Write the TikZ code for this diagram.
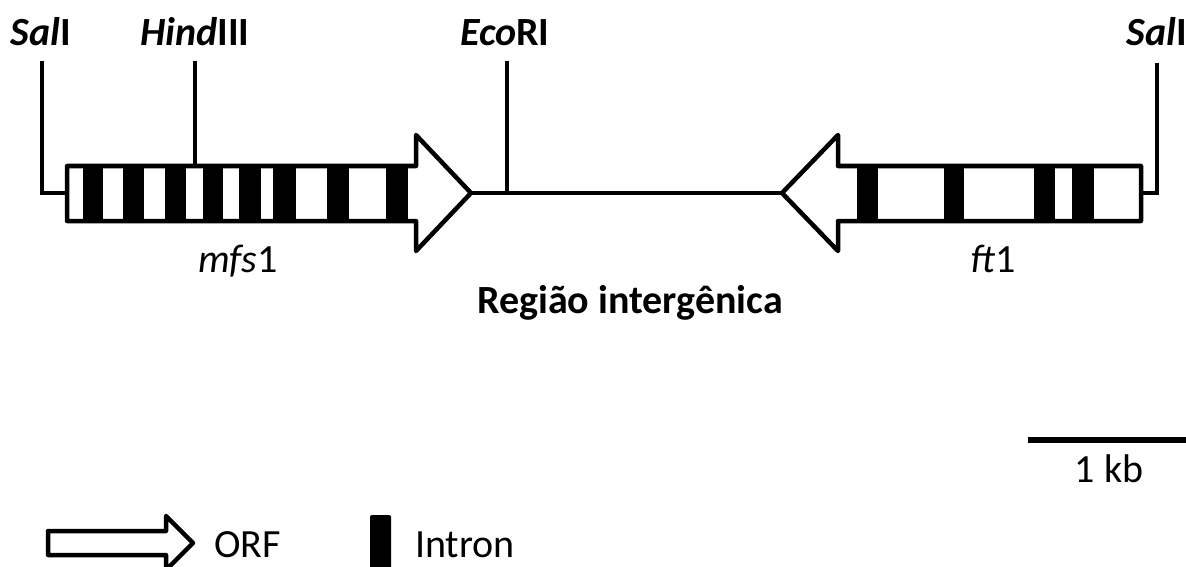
\documentclass[tikz,border=0pt]{standalone}
\usepackage{fontspec}
\setmainfont{Carlito}
\begin{document}
\begin{tikzpicture}[x=1pt,y=-1pt,
  lbl/.style={inner sep=0pt,anchor=base,font=\fontsize{40}{45}\selectfont},
  orf/.style={draw=black,fill=white,line width=4.5pt,line join=round},
  intron/.style={fill=black,draw=none},
  conn/.style={draw=black,line width=4.2pt},
  scalebar/.style={draw=black,line width=5.5pt}]
\useasboundingbox (0,0) rectangle (1186,567);
% key coordinates
\coordinate (salL) at (42,61);
\coordinate (salLb) at (42,193);
\coordinate (mfsL) at (67,193);
\coordinate (hindT) at (195,61);
\coordinate (hindB) at (195,166);
\coordinate (mfsTip) at (471,193);
\coordinate (ecoT) at (507,61);
\coordinate (ecoB) at (507,193);
\coordinate (ftTip) at (782,193);
\coordinate (ftR) at (1141,193);
\coordinate (salR) at (1157,63);
\coordinate (salRb) at (1157,193);
% connectors
\draw[conn] (salL) -- (salLb) -- (mfsL);
\draw[conn] (hindT) -- (hindB);
\draw[conn] (ecoT) -- (ecoB);
\draw[conn] (mfsTip) -- (ftTip);
\draw[conn] (salR) -- (salRb) -- (ftR);
% mfs1 ORF
\fill[white] (67,166) -- (416,166) -- (416,135) -- (mfsTip) -- (416,251) -- (416,221) -- (67,221) -- cycle;
\foreach \a/\b in {83/103,123/144,165/186,203/223,239/261,273/296,327/349,386/408}
  \fill[intron] (\a,166) rectangle (\b,221);
\draw[orf,fill=none] (67,166) -- (416,166) -- (416,135) -- (mfsTip) -- (416,251) -- (416,221) -- (67,221) -- cycle;
% ft1 ORF
\fill[white] (ftR) -- (1141,166) -- (838,166) -- (838,135) -- (ftTip) -- (838,251) -- (838,221) -- (1141,221) -- cycle;
\foreach \a/\b in {857/878,944/964,1034/1055,1072/1094}
  \fill[intron] (\a,166) rectangle (\b,221);
\draw[orf,fill=none] (1141,166) -- (838,166) -- (838,135) -- (ftTip) -- (838,251) -- (838,221) -- (1141,221) -- cycle;
% labels
\node[lbl] (tsalL) at (41,46) {\textbf{\textit{Sal}I}};
\node[lbl] (thind) at (195,46) {\textbf{\textit{Hind}III}};
\node[lbl] (teco) at (505,46) {\textbf{\textit{Eco}RI}};
\node[lbl] (tsalR) at (1157,46) {\textbf{\textit{Sal}I}};
\node[lbl] (tmfs) at (238,272) {\textit{mfs}1};
\node[lbl] (tft) at (993,272) {\textit{ft}1};
\node[lbl] (treg) at (630,313) {\textbf{Região intergênica}};
% scale bar
\coordinate (sbL) at (1028,440);
\coordinate (sbR) at (1188,440);
\draw[scalebar] (sbL) -- (sbR);
\node[lbl] (tkb) at (1109,482) {1 kb};
% legend
\draw[orf] (48,531) -- (166,531) -- (166,516) -- (193,543) -- (166,570) -- (166,555) -- (48,555) -- cycle;
\node[lbl,anchor=base west] (torf) at (214,557) {ORF};
\fill[intron,rounded corners=2pt] (370,515) rectangle (391,580);
\node[lbl,anchor=base west] (tintron) at (415,557) {Intron};
\end{tikzpicture}
\end{document}
